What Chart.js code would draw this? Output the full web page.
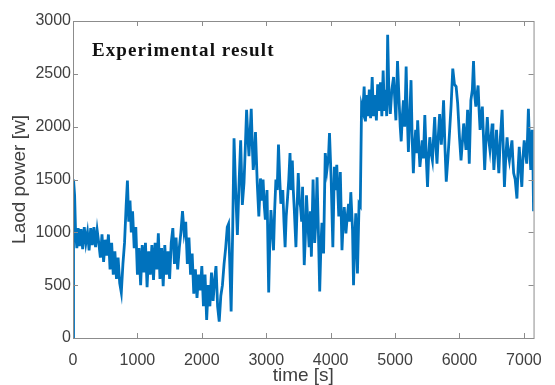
<!DOCTYPE html>
<html>
<head>
<meta charset="utf-8">
<script src="https://cdn.jsdelivr.net/npm/chart.js@4/dist/chart.umd.min.js"></script>
<style>
  html, body { margin: 0; padding: 0; background: #fff; }
  canvas { display: block; }
</style>
</head>
<body>
<canvas id="powerChart" width="555" height="385"></canvas>
<script>
// time axis samples [s]
const timeS = [
  0, 8, 25, 40, 60, 80, 100, 125, 150, 175, 200, 225, 250, 275, 300, 325, 350, 375, 400,
  425, 450, 475, 500, 525, 550, 575, 600,
  625, 650, 675, 700, 725, 750, 775, 800, 825, 845, 865, 885, 905, 925, 950, 975, 1000,
  1025, 1050, 1075, 1100, 1125, 1150, 1175, 1200, 1225, 1250, 1275, 1300, 1325, 1350, 1375, 1400, 1425, 1450, 1475,
  1500, 1525, 1550, 1575, 1600, 1625, 1650, 1675, 1700, 1725, 1750, 1775, 1800, 1825, 1850,
  1875, 1900, 1925, 1950, 1975, 2000, 2025, 2050, 2075, 2100, 2125, 2150, 2175, 2200, 2220, 2245, 2270, 2295, 2320, 2345, 2370, 2395, 2415, 2430, 2455, 2480,
  2500, 2525, 2552, 2580, 2603, 2629, 2655, 2675, 2695, 2715, 2732, 2750, 2767, 2785, 2798, 2815, 2833,
  2860, 2885, 2910, 2930, 2951, 2970, 2986, 3012, 3038, 3055, 3073, 3095, 3113, 3130, 3150, 3170, 3190,
  3210, 3227, 3257, 3275, 3293, 3310, 3329, 3350, 3369, 3385, 3405, 3420, 3436, 3461, 3480, 3497, 3515, 3533, 3550, 3564, 3590,
  3610, 3625, 3645, 3666, 3685, 3701, 3727, 3752, 3770, 3789, 3810, 3830, 3850, 3865, 3890, 3916, 3942, 3967, 3982,
  4008, 4034, 4058, 4075, 4095, 4126, 4150, 4176, 4195, 4211, 4237, 4258, 4278, 4295, 4313, 4340, 4355, 4372, 4390, 4416, 4441, 4460,
  4480, 4500, 4520, 4540, 4560, 4580, 4600, 4620, 4645, 4665, 4690, 4710, 4730, 4750, 4773, 4795, 4815, 4835, 4855, 4870,
  4885, 4905, 4926, 4950, 4977, 5013, 5038, 5064, 5080, 5095, 5113, 5130, 5150, 5172, 5190, 5207, 5228, 5248, 5265, 5284,
  5300, 5320, 5335, 5351, 5370, 5386, 5405, 5421, 5440, 5462, 5485, 5504, 5520, 5539, 5560, 5580, 5598, 5615, 5635, 5651, 5670, 5692, 5705, 5718,
  5735, 5753, 5775, 5795, 5820, 5845, 5870, 5896, 5922, 5948, 5972, 6000, 6024, 6045, 6065, 6085, 6101,
  6126, 6152, 6177, 6200, 6218, 6236, 6254, 6272, 6289, 6305, 6320, 6338, 6355, 6373, 6391, 6410, 6432, 6450, 6473,
  6490, 6508, 6520, 6534, 6555, 6575, 6592, 6611, 6635, 6662, 6680, 6698, 6718, 6739, 6757, 6775, 6795, 6815,
  6828, 6841, 6865, 6892, 6910, 6928, 6948, 6968, 6985, 7005, 7025, 7044, 7070, 7090, 7106, 7127, 7140, 7150
];

// load power [W]
const powerW = [
  0, 1500, 1350, 1000, 850, 1040, 870, 1030, 840, 1050, 900, 1000, 830, 1040, 880, 1050, 860, 1020, 900,
  760, 980, 720, 930, 780, 980, 650, 900,
  600, 820, 560, 760, 520, 430, 700, 900, 1250, 1490, 1100, 1300, 1000, 1200, 850, 1050, 600,
  850, 500, 880, 620, 900, 480, 820, 600, 880, 550, 900, 650, 990, 560, 850, 490, 880, 600, 820,
  560, 900, 1040, 700, 950, 650, 850, 1000, 1200, 1000, 1100, 700, 950, 600, 800,
  420, 650, 380, 600, 450, 680, 300, 600, 170, 500, 300, 620, 350, 560, 680, 300, 155, 400, 500, 700, 850, 1050, 1080, 780, 250, 1050,
  1890, 1400, 975, 1500, 1870, 1260, 1470, 1800, 2160, 1900, 1720, 1950, 2170, 1800, 1590, 1700, 1950,
  1470, 1150, 1510, 1300, 1500, 1250, 1120, 1400, 430, 900, 1210, 1000, 830, 1200, 1500, 1400, 1830,
  1500, 1270, 1400, 1100, 860, 1150, 1310, 1500, 1750, 1400, 1680, 1400, 1210, 860, 1250, 1560, 1300, 1240, 1100, 1430, 690,
  1000, 1350, 1100, 860, 1200, 770, 1500, 900, 1100, 1520, 1000, 440, 900, 1090, 800, 1750, 1590, 1720, 1940,
  1500, 860, 1620, 1400, 1640, 1150, 1570, 830, 1100, 1240, 990, 1150, 1270, 1100, 1380, 1020, 500, 900, 1180, 610, 1270, 1250,
  2200, 2150, 2380, 2050, 2300, 2100, 2350, 2080, 2470, 2100, 2300, 2060, 2400, 2150, 2420, 2100, 2530, 2150, 2350, 2100,
  2870, 2300, 2120, 2350, 2470, 2060, 2620, 2220, 2000, 1860, 2100, 2250, 2000, 2570, 2100, 1760, 2100, 2440, 1900, 1560,
  1800, 1970, 1750, 2060, 1800, 1620, 1750, 1870, 1700, 2110, 1700, 1430, 1700, 1900, 1750, 1680, 1900, 2090, 1800, 1650, 1900, 2120, 1950, 1830,
  2000, 2250, 1800, 1480, 1700, 1940, 2200, 2550, 2400, 2380, 2220, 1900, 1680, 1850, 2030, 1900, 1780,
  2160, 1650, 2250, 2350, 2620, 2300, 2190, 2300, 2390, 2150, 1970, 2100, 2190, 1900, 1590, 1850, 2090, 1900, 1780,
  1900, 2030, 1800, 1590, 1800, 1970, 1750, 1560, 1900, 2160, 1800, 1430, 1700, 1900, 1750, 1680, 1780, 1870,
  1700, 1560, 1500, 1320, 1600, 1810, 1600, 1430, 1700, 1870, 1750, 1650, 2170, 1800, 1590, 1970, 1700, 1200
];

const xTicks = [0, 1000, 2000, 3000, 4000, 5000, 6000, 7000];
const yTicks = [0, 500, 1000, 1500, 2000, 2500, 3000];

const points = timeS.map((t, i) => ({ x: t, y: powerW[i] }));

// MATLAB-like box with inward ticks + the text inside the axes
const boxPlugin = {
  id: 'matlabBox',
  afterDraw(chart) {
    const { ctx, chartArea: a, scales } = chart;
    ctx.save();
    ctx.strokeStyle = '#8c8c8c';
    ctx.lineWidth = 1;
    ctx.strokeRect(a.left + 0.5, a.top + 0.5, a.right - a.left, a.bottom - a.top);
    ctx.beginPath();
    xTicks.forEach(v => {
      const px = Math.round(scales.x.getPixelForValue(v)) + 0.5;
      ctx.moveTo(px, a.bottom); ctx.lineTo(px, a.bottom - 5);
      ctx.moveTo(px, a.top); ctx.lineTo(px, a.top + 5);
    });
    yTicks.forEach(v => {
      const py = Math.round(scales.y.getPixelForValue(v)) + 0.5;
      ctx.moveTo(a.left, py); ctx.lineTo(a.left + 5, py);
      ctx.moveTo(a.right, py); ctx.lineTo(a.right - 5, py);
    });
    ctx.stroke();

    ctx.font = 'bold 19px "Liberation Serif", "Times New Roman", serif';
    ctx.letterSpacing = '1.1px';
    ctx.fillStyle = '#111';
    ctx.textBaseline = 'alphabetic';
    ctx.fillText('Experimental result', 92, 56);
    ctx.restore();
  }
};

const tickFont = { family: '"Liberation Sans", Arial, sans-serif', size: 16 };
const titleFont = { family: '"Liberation Sans", Arial, sans-serif', size: 19, lineHeight: 1 };
const plainNumber = v => String(v);

new Chart(document.getElementById('powerChart'), {
  type: 'line',
  data: {
    datasets: [{
      data: points,
      borderColor: '#0072BD',
      borderWidth: 2.8,
      pointRadius: 0,
      tension: 0,
      fill: false
    }]
  },
  options: {
    responsive: false,
    animation: false,
    devicePixelRatio: 1,
    layout: { padding: { top: 21, right: 15, left: 0, bottom: 0 } },
    plugins: { legend: { display: false }, tooltip: { enabled: false } },
    scales: {
      x: {
        type: 'linear',
        min: 0,
        max: 7150,
        afterBuildTicks: s => { s.ticks = xTicks.map(v => ({ value: v })); },
        afterFit: s => { s.height = 47; },
        grid: { display: false, drawTicks: false },
        border: { display: false },
        ticks: { color: '#404040', font: tickFont, padding: 13, maxRotation: 0, callback: plainNumber },
        title: {
          display: true,
          text: 'time [s]',
          color: '#404040',
          font: titleFont,
          padding: { top: 0, bottom: 0 }
        }
      },
      y: {
        min: 0,
        max: 3000,
        afterBuildTicks: s => { s.ticks = yTicks.map(v => ({ value: v })); },
        afterFit: s => { s.width = 73; },
        grid: { display: false, drawTicks: false },
        border: { display: false },
        ticks: { color: '#404040', font: tickFont, padding: 2, callback: plainNumber },
        title: {
          display: true,
          text: 'Laod power [w]',
          color: '#404040',
          font: titleFont,
          padding: { top: 10, bottom: 0 }
        }
      }
    }
  },
  plugins: [boxPlugin]
});
</script>
</body>
</html>
